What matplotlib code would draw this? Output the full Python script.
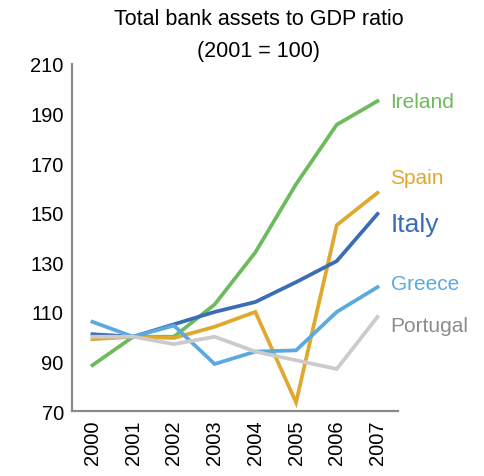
import numpy as np
import matplotlib.pyplot as plt

plt.rcParams['font.family'] = ['Liberation Sans', 'DejaVu Sans']

# Index values, 2001 = 100
years = ['2000', '2001', '2002', '2003', '2004', '2005', '2006', '2007']
ireland = [88.5, 100, 100, 113, 134, 161.5, 185.5, 195]
spain = [99, 100, 99.5, 104, 110, 73.5, 145, 158]
italy = [101, 100, 105, 110, 114, 122, 130.5, 149.5]
greece = [106, 100, 104.5, 89, 94, 94.5, 110, 120]
portugal = [100, 100, 97, 100, 94, 90.5, 87, 108]

# name, values, line colour, label colour, label size, label height
series = [
    ('Ireland', ireland, '#6cbb5c', '#6cbb5c', 15, 195),
    ('Spain', spain, '#e0a82e', '#e0a82e', 15, 164),
    ('Italy', italy, '#3b6db4', '#3b6db4', 19, 145.5),
    ('Greece', greece, '#5aa9e1', '#5aa9e1', 15, 121.5),
    ('Portugal', portugal, '#cbcbcb', '#8c8c8c', 15, 104.5),
]

fig = plt.figure(figsize=(4.84, 4.77), dpi=100)
ax = fig.add_axes([0.149, 0.136, 0.673, 0.728])

x = np.arange(len(years))
for name, vals, col, tcol, fs, ylab in series:
    ax.plot(x, vals, color=col, lw=2.7, solid_joinstyle='miter')
    ax.text(x[-1] + 0.32, ylab, name, color=tcol, fontsize=fs,
            va='center', ha='left', clip_on=False)

ax.set_xlim(-0.5, 7.5)
ax.set_ylim(70, 210)
ax.set_yticks(np.arange(70, 211, 20))
ax.set_xticks(x)
ax.set_xticklabels(years, rotation=90)
ax.tick_params(axis='both', length=0, labelsize=14.5, pad=6)

for side in ['top', 'right']:
    ax.spines[side].set_visible(False)
for side in ['left', 'bottom']:
    ax.spines[side].set_color('#8a8a8a')
    ax.spines[side].set_linewidth(1.6)

fig.text(0.535, 0.959, 'Total bank assets to GDP ratio', ha='center',
         va='center', fontsize=15.5)
fig.text(0.535, 0.891, '(2001 = 100)', ha='center', va='center',
         fontsize=15.5)

fig.savefig('out.png', dpi=100)
